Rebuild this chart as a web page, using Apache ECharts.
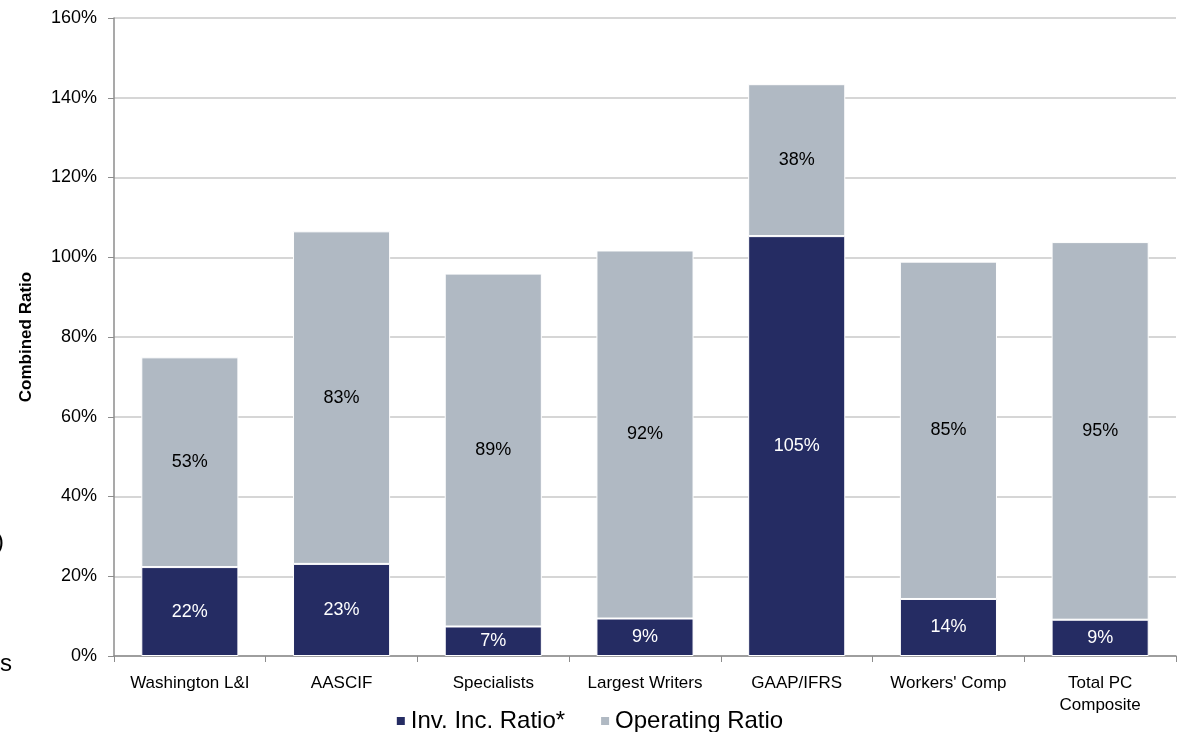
<!DOCTYPE html>
<html><head><meta charset="utf-8">
<script src="https://cdn.jsdelivr.net/npm/echarts@6/dist/echarts.min.js"></script>
<style>html,body{margin:0;padding:0;background:#fff}#c{width:1178px;height:732px}</style>
</head><body><div id="c"></div>
<script>
const categories = ['Washington L&I', 'AASCIF', 'Specialists', 'Largest Writers', 'GAAP/IFRS', "Workers' Comp", 'Total PC\nComposite'];
const invIncRatio = [22.3, 23.1, 7.4, 9.4, 105.3, 14.3, 9.1];
const operatingRatio = [52.6, 83.4, 88.5, 92.3, 38.1, 84.6, 94.7];
const yTicks = [0, 20, 40, 60, 80, 100, 120, 140, 160];
const seriesNames = ['Inv. Inc. Ratio*', 'Operating Ratio'];

const font = 'Liberation Sans, Arial, sans-serif';
const chart = echarts.init(document.getElementById('c'));
chart.setOption({
  animation: false,
  grid: { left: 114, right: 2, top: 18, bottom: 76, containLabel: false },
  legend: {
    bottom: -6, left: 'center', itemWidth: 10, itemHeight: 10, itemGap: 34,
    icon: 'rect',
    textStyle: { fontFamily: font, fontSize: 24, color: '#000' },
    data: seriesNames
  },
  xAxis: {
    type: 'category', data: categories,
    axisLine: { lineStyle: { color: '#8c8c8c', width: 1.5 } },
    axisTick: { show: true, length: 6, lineStyle: { color: '#8c8c8c' } },
    axisLabel: { fontFamily: font, fontSize: 17, color: '#000', margin: 16, lineHeight: 22, interval: 0 }
  },
  yAxis: {
    type: 'value', min: 0, max: 160, interval: 20,
    name: 'Combined Ratio', nameLocation: 'middle', nameGap: 79, nameRotate: 90,
    nameTextStyle: { fontFamily: font, fontSize: 17, fontWeight: 'bold', color: '#000' },
    axisLine: { show: true, lineStyle: { color: '#8c8c8c', width: 1.5 } },
    axisTick: { show: true, length: 6, lineStyle: { color: '#8c8c8c' } },
    splitLine: { lineStyle: { color: '#c8c8c8', width: 1.5 } },
    axisLabel: { fontFamily: font, fontSize: 18, color: '#000', margin: 17,
      formatter: v => yTicks.includes(v) ? v + '%' : '' }
  },
  series: [
    { name: seriesNames[0], type: 'bar', stack: 'a', data: invIncRatio, barWidth: '64%',
      itemStyle: { color: '#252c63', borderColor: '#fff', borderWidth: 1 },
      label: { show: true, position: 'inside', color: '#fff', fontFamily: font, fontSize: 18,
        formatter: p => Math.round(p.value) + '%' } },
    { name: seriesNames[1], type: 'bar', stack: 'a', data: operatingRatio, barWidth: '64%',
      itemStyle: { color: '#b0b9c3', borderColor: '#fff', borderWidth: 1 },
      label: { show: true, position: 'inside', color: '#000', fontFamily: font, fontSize: 18,
        formatter: p => Math.round(p.value) + '%' } }
  ],
  graphic: [
    { type: 'text', x: -4, y: 530, z: 100, style: { text: ')', font: '24px Liberation Sans, Arial', fill: '#000' } },
    { type: 'text', x: 0, y: 652, z: 100, style: { text: 's', font: '24px Liberation Sans, Arial', fill: '#000' } }
  ]
});
</script></body></html>
